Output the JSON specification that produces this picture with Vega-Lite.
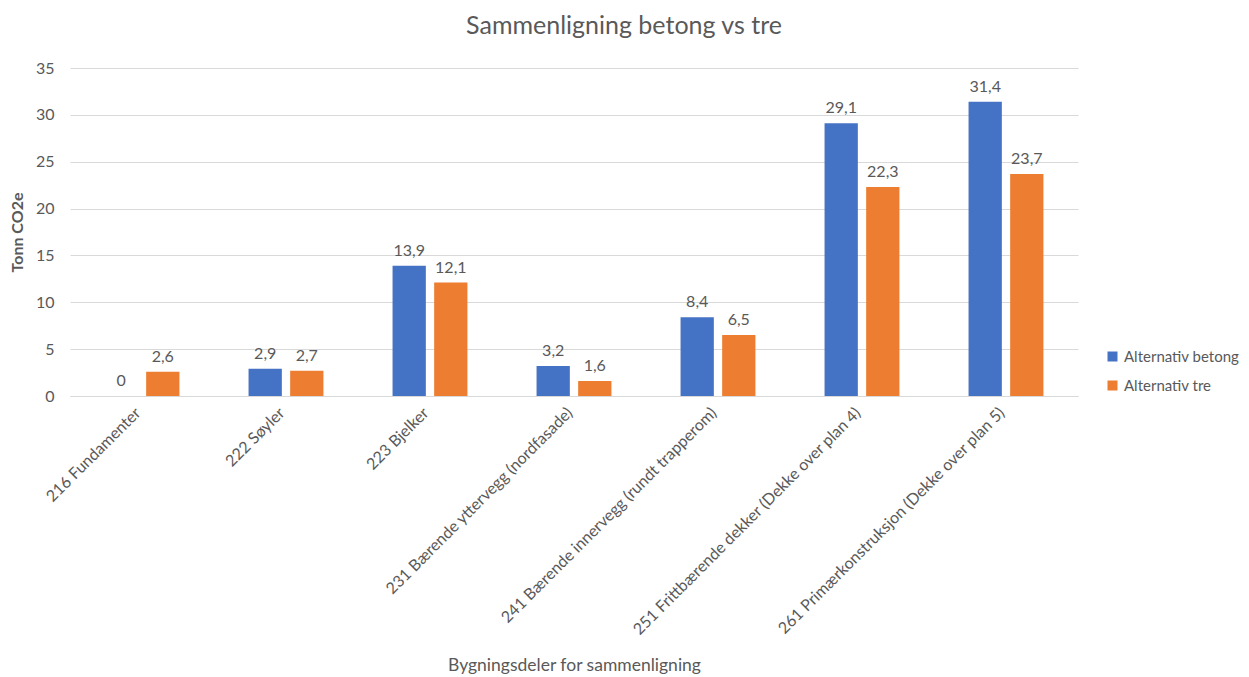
{
  "$schema": "https://vega.github.io/schema/vega-lite/v6.json",
  "autosize": "none",
  "width": 1008,
  "height": 328,
  "padding": {"left": 70, "top": 68, "right": 171, "bottom": 281},
  "background": "white",
  "config": {
    "font": "Lato",
    "view": {"stroke": null},
    "locale": {"number": {"decimal": ",", "thousands": " ", "grouping": [3], "currency": ["", " kr"]}}
  },
  "title": {
    "text": "Sammenligning betong vs tre",
    "fontSize": 25,
    "fontWeight": "normal",
    "color": "#595959",
    "font": "Lato",
    "anchor": "middle",
    "dx": 50,
    "offset": 21
  },
  "data": {
    "values": [
      {"del": "216 Fundamenter", "serie": "Alternativ betong", "verdi": 0},
      {"del": "216 Fundamenter", "serie": "Alternativ tre", "verdi": 2.6},
      {"del": "222 Søyler", "serie": "Alternativ betong", "verdi": 2.9},
      {"del": "222 Søyler", "serie": "Alternativ tre", "verdi": 2.7},
      {"del": "223 Bjelker", "serie": "Alternativ betong", "verdi": 13.9},
      {"del": "223 Bjelker", "serie": "Alternativ tre", "verdi": 12.1},
      {"del": "231 Bærende yttervegg (nordfasade)", "serie": "Alternativ betong", "verdi": 3.2},
      {"del": "231 Bærende yttervegg (nordfasade)", "serie": "Alternativ tre", "verdi": 1.6},
      {"del": "241 Bærende innervegg (rundt trapperom)", "serie": "Alternativ betong", "verdi": 8.4},
      {"del": "241 Bærende innervegg (rundt trapperom)", "serie": "Alternativ tre", "verdi": 6.5},
      {"del": "251 Frittbærende dekker (Dekke over plan 4)", "serie": "Alternativ betong", "verdi": 29.1},
      {"del": "251 Frittbærende dekker (Dekke over plan 4)", "serie": "Alternativ tre", "verdi": 22.3},
      {"del": "261 Primærkonstruksjon (Dekke over plan 5)", "serie": "Alternativ betong", "verdi": 31.4},
      {"del": "261 Primærkonstruksjon (Dekke over plan 5)", "serie": "Alternativ tre", "verdi": 23.7}
    ]
  },
  "encoding": {
    "x": {
      "field": "del",
      "type": "nominal",
      "sort": null,
      "scale": {"paddingInner": 0.48, "paddingOuter": 0.24},
      "axis": {
        "title": "Bygningsdeler for sammenligning",
        "titleFontSize": 17.5,
        "titleFontWeight": "normal",
        "titleColor": "#595959",
        "titleY": 260,
        "titleX": 504,
        "labelAngle": -45,
        "labelAlign": "right",
        "labelBaseline": "middle",
        "labelFontSize": 16,
        "labelColor": "#595959",
        "labelPadding": 14,
        "labelOffset": -4,
        "labelLimit": 400,
        "ticks": false,
        "domainColor": "#d9d9d9",
        "domainWidth": 1
      }
    },
    "xOffset": {"field": "serie", "type": "nominal", "scale": {"paddingInner": 0.2}},
    "y": {
      "field": "verdi",
      "type": "quantitative",
      "scale": {"domain": [0, 35]},
      "axis": {
        "title": "Tonn CO2e",
        "titleFontSize": 16,
        "titleFontWeight": "bold",
        "titleColor": "#595959",
        "titlePadding": 10,
        "values": [0, 5, 10, 15, 20, 25, 30, 35],
        "labelFontSize": 16,
        "labelColor": "#595959",
        "labelPadding": 16,
        "ticks": false,
        "domain": false,
        "gridColor": "#d9d9d9",
        "gridWidth": 1
      }
    },
    "color": {
      "field": "serie",
      "type": "nominal",
      "scale": {"domain": ["Alternativ betong", "Alternativ tre"], "range": ["#4472C4", "#ED7D31"]},
      "legend": {
        "title": null,
        "orient": "none",
        "legendX": 1035,
        "legendY": 281,
        "symbolType": "square",
        "symbolSize": 100,
        "labelFontSize": 15,
        "labelColor": "#595959",
        "rowPadding": 13,
        "labelOffset": 4
      }
    }
  },
  "layer": [
    {"mark": {"type": "bar"}},
    {
      "mark": {"type": "text", "baseline": "bottom", "dy": -7, "fontSize": 16},
      "encoding": {
        "text": {"field": "verdi", "type": "quantitative", "format": ".1~f"},
        "color": {"value": "#595959"}
      }
    }
  ]
}
